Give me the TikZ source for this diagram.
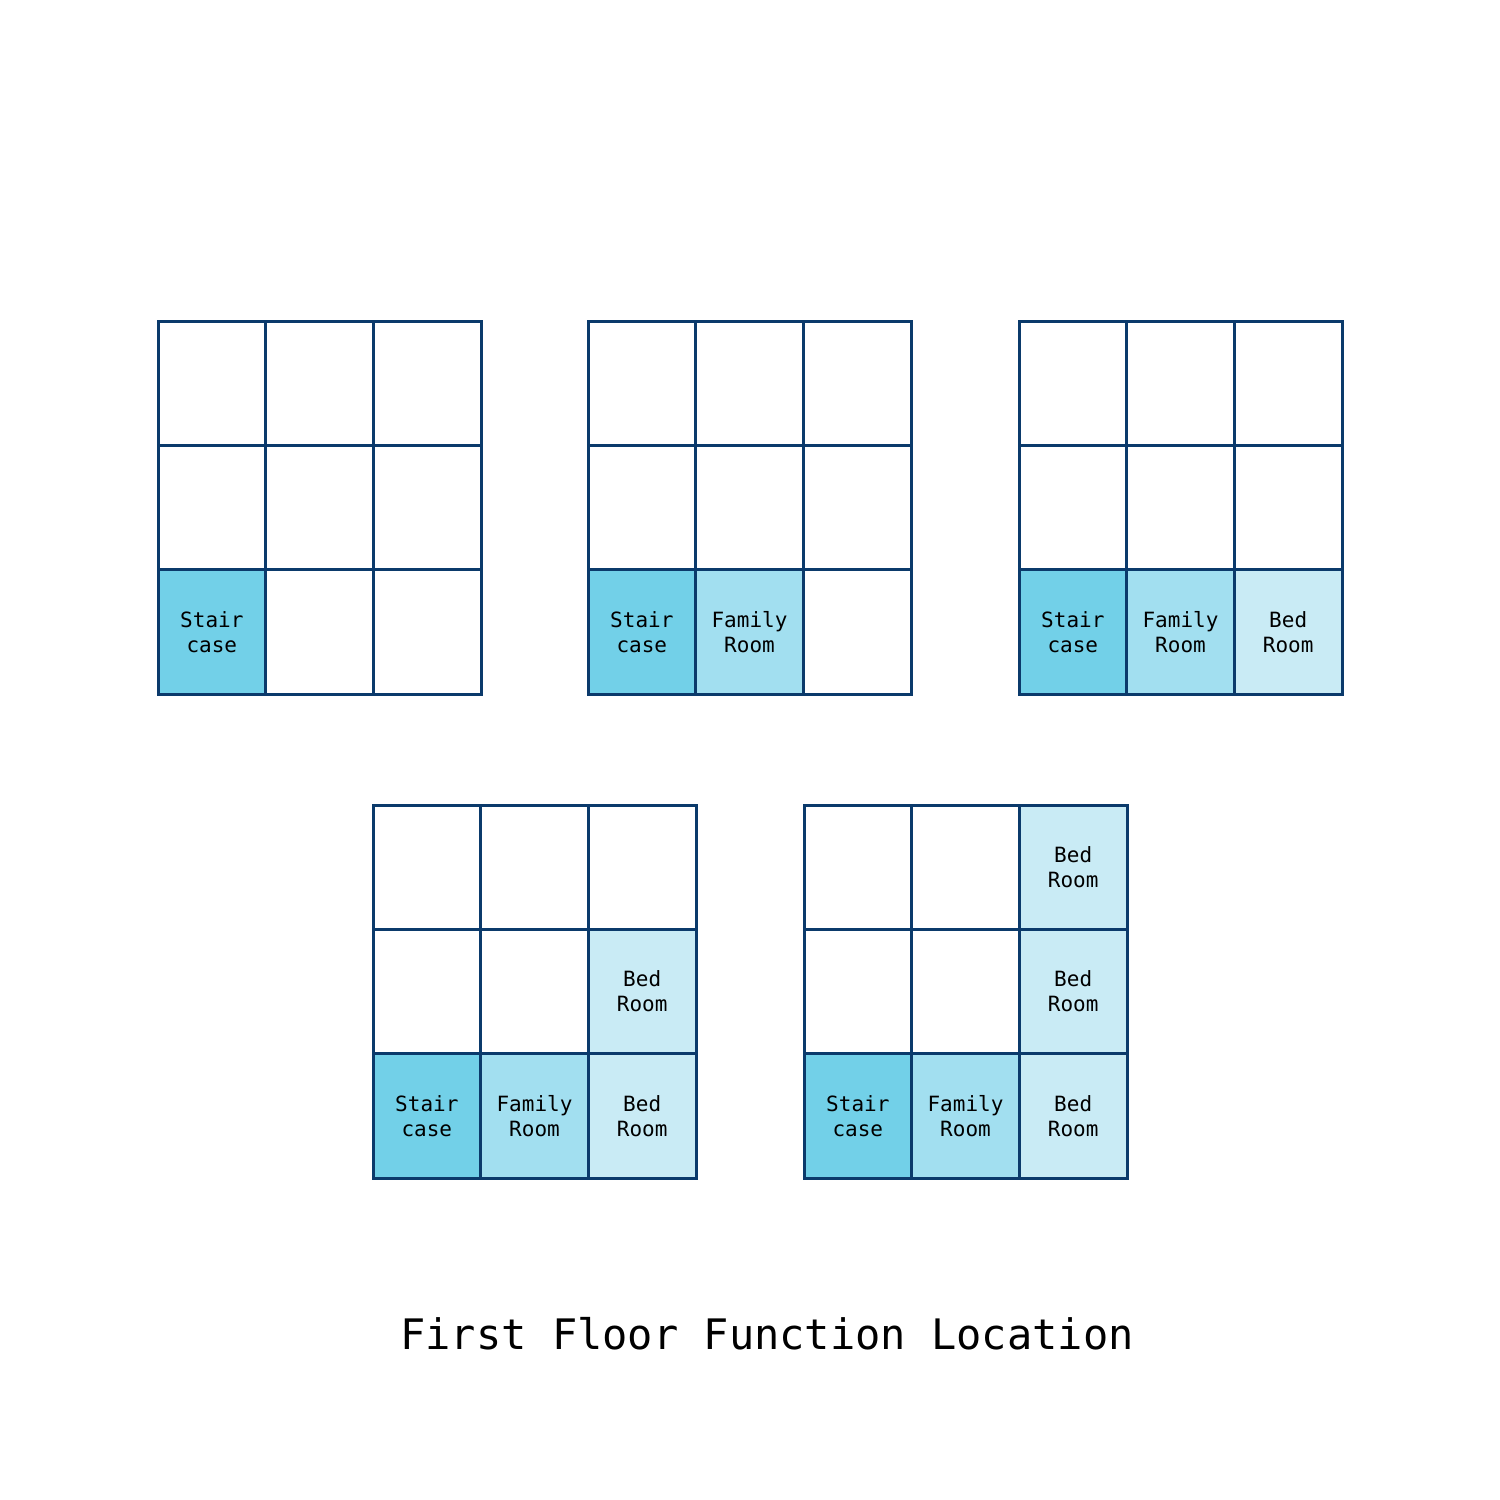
\documentclass[tikz,border=0pt]{standalone}
\usepackage{fontspec}
\setmonofont{DejaVu Sans Mono}
\definecolor{navy}{HTML}{0B3A6B}
\definecolor{stairc}{HTML}{72D0E8}
\definecolor{famc}{HTML}{A2DFF0}
\definecolor{bedc}{HTML}{C9EBF5}
\newcommand\mygrid[4]{%
  \foreach \r/\c/\s/\t in {#4} {
    \node[cell,\s] (#1-\r-\c) at ({#2+(\c-0.5)*107.67},{#3+(\r-0.5)*124.33}) {\t};
  }%
}
\begin{document}
\begin{tikzpicture}[x=1pt,y=-1pt,
  cell/.style={draw=navy, line width=3pt, minimum width=107.67pt, minimum height=124.33pt,
    inner sep=0pt, align=center, font=\ttfamily\fontsize{21}{25}\selectfont},
  wh/.style={fill=white},
  st/.style={fill=stairc},
  fa/.style={fill=famc},
  bd/.style={fill=bedc}]
\useasboundingbox (0,0) rectangle (1500,1500);
\fill[white] (0,0) rectangle (1500,1500);
\mygrid{ga}{158}{321}{1/1/wh/,1/2/wh/,1/3/wh/,2/1/wh/,2/2/wh/,2/3/wh/,3/1/st/{Stair\\case},3/2/wh/,3/3/wh/}
\mygrid{gb}{588}{321}{1/1/wh/,1/2/wh/,1/3/wh/,2/1/wh/,2/2/wh/,2/3/wh/,3/1/st/{Stair\\case},3/2/fa/{Family\\Room},3/3/wh/}
\mygrid{gc}{1019}{321}{1/1/wh/,1/2/wh/,1/3/wh/,2/1/wh/,2/2/wh/,2/3/wh/,3/1/st/{Stair\\case},3/2/fa/{Family\\Room},3/3/bd/{Bed\\Room}}
\mygrid{gd}{373}{805}{1/1/wh/,1/2/wh/,1/3/wh/,2/1/wh/,2/2/wh/,2/3/bd/{Bed\\Room},3/1/st/{Stair\\case},3/2/fa/{Family\\Room},3/3/bd/{Bed\\Room}}
\mygrid{ge}{804}{805}{1/1/wh/,1/2/wh/,1/3/bd/{Bed\\Room},2/1/wh/,2/2/wh/,2/3/bd/{Bed\\Room},3/1/st/{Stair\\case},3/2/fa/{Family\\Room},3/3/bd/{Bed\\Room}}
\node[font=\ttfamily\fontsize{42}{48}\selectfont] (title) at (767,1334) {First Floor Function Location};
\end{tikzpicture}
\end{document}
